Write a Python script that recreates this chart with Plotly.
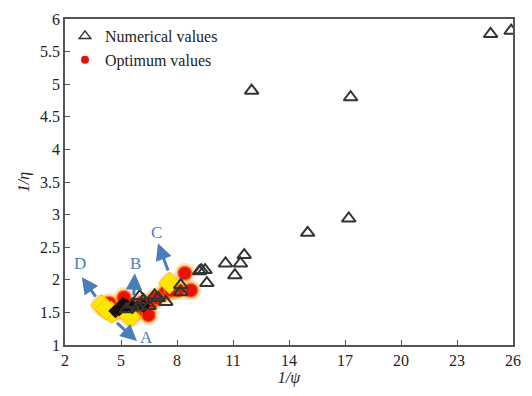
import plotly.graph_objects as go

# Numerical values (open triangles)
num_x = [25.9, 24.8, 17.3, 12.0, 17.2, 15.0, 11.6, 11.4, 10.6, 11.1, 9.6, 9.5, 9.3, 9.2,
         8.2, 8.2, 7.4, 6.8, 6.2, 7.0, 6.5, 5.9, 5.6, 5.3, 6.0]
num_y = [5.82, 5.77, 4.80, 4.90, 2.94, 2.72, 2.38, 2.25, 2.25, 2.07, 1.95, 2.15, 2.15, 2.13,
         1.92, 1.81, 1.66, 1.76, 1.69, 1.72, 1.60, 1.58, 1.62, 1.55, 1.75]

# Optimum values (red circles)
opt_x = [8.42, 8.74, 8.05, 5.16, 6.63, 5.95, 6.47, 6.10, 7.37, 7.68, 4.37, 4.20, 5.6, 6.9]
opt_y = [2.10, 1.84, 1.84, 1.73, 1.66, 1.54, 1.46, 1.64, 1.80, 1.84, 1.64, 1.58, 1.50, 1.72]

# Yellow diamonds
yel_x = [3.95, 4.50, 5.50, 7.60, 4.20]
yel_y = [1.61, 1.50, 1.43, 1.95, 1.55]

# Dark markers in the cluster
blk_x = [4.9, 5.3, 4.7, 5.6, 6.2, 5.1]
blk_y = [1.55, 1.60, 1.52, 1.58, 1.60, 1.63]

# Arrow annotations A-D
arr_labels = ["A", "B", "C", "D"]
arr_tail_x = [4.70, 5.68, 7.55, 3.70]
arr_tail_y = [1.36, 1.74, 2.12, 1.72]
arr_head_x = [5.85, 5.74, 6.98, 2.90]
arr_head_y = [1.06, 2.10, 2.56, 2.04]
lab_x = [6.37, 5.79, 6.90, 2.80]
lab_y = [1.12, 2.25, 2.73, 2.25]

FONT = "Liberation Serif"
BLUE = "#4a7ebb"

fig = go.Figure()

# glow halos
fig.add_trace(go.Scatter(x=opt_x + yel_x + blk_x, y=opt_y + yel_y + blk_y, mode="markers",
                         marker=dict(size=21, color="rgba(255,150,20,0.28)", line=dict(width=0)),
                         showlegend=False, hoverinfo="skip"))
fig.add_trace(go.Scatter(x=opt_x, y=opt_y, mode="markers",
                         marker=dict(symbol="circle", size=14, color="#e8100a",
                                     line=dict(width=2, color="rgba(255,120,0,0.6)")),
                         showlegend=False))
fig.add_trace(go.Scatter(x=yel_x, y=yel_y, mode="markers",
                         marker=dict(symbol="diamond", size=17, color="#ffe600",
                                     line=dict(width=1, color="rgba(255,170,0,0.7)")),
                         showlegend=False))
fig.add_trace(go.Scatter(x=blk_x, y=blk_y, mode="markers",
                         marker=dict(symbol="diamond", size=11, color="#1a0d05"),
                         showlegend=False))
fig.add_trace(go.Scatter(x=num_x, y=num_y, mode="markers",
                         marker=dict(symbol="triangle-up-open", size=12, color="#333333",
                                     line=dict(width=2, color="#333333")),
                         showlegend=False))

# legend entries
fig.add_trace(go.Scatter(x=[None], y=[None], mode="markers", name="Numerical values",
                         marker=dict(symbol="triangle-up-open", size=10, color="#333333",
                                     line=dict(width=1.5, color="#333333"))))
fig.add_trace(go.Scatter(x=[None], y=[None], mode="markers", name="Optimum values",
                         marker=dict(symbol="circle", size=8, color="#e8100a")))

for lab, tx, ty, hx, hy, lx, ly in zip(arr_labels, arr_tail_x, arr_tail_y, arr_head_x,
                                      arr_head_y, lab_x, lab_y):
    fig.add_annotation(x=hx, y=hy, ax=tx, ay=ty, xref="x", yref="y", axref="x", ayref="y",
                       text="", showarrow=True, arrowhead=2, arrowsize=1.1, arrowwidth=3,
                       arrowcolor=BLUE)
    fig.add_annotation(x=lx, y=ly, xref="x", yref="y", text=lab, showarrow=False,
                       font=dict(family=FONT, size=17, color=BLUE))

axis_common = dict(showgrid=False, zeroline=False, showline=True, linecolor="#555555",
                   linewidth=1.5, mirror=True, ticks="inside", ticklen=5, tickcolor="#555555",
                   tickfont=dict(family=FONT, size=16, color="#222222"))

fig.update_xaxes(range=[2, 26], tick0=2, dtick=3,
                 title=dict(text="<i>1/ψ</i>", font=dict(family=FONT, size=16, color="#222222"),
                            standoff=4),
                 **axis_common)
fig.update_yaxes(range=[1, 6], dtick=0.5,
                 title=dict(text="<i>1/η</i>", font=dict(family=FONT, size=16, color="#222222"),
                            standoff=6),
                 **axis_common)

fig.update_layout(
    width=532, height=396,
    margin=dict(l=65, r=11, t=18, b=51),
    plot_bgcolor="white", paper_bgcolor="white",
    legend=dict(x=0.0, y=1.0, xanchor="left", yanchor="top", bgcolor="rgba(0,0,0,0)",
                font=dict(family=FONT, size=16, color="#222222"),
                itemwidth=30, tracegroupgap=0),
    font=dict(family=FONT),
)

fig.write_html("out.html")
